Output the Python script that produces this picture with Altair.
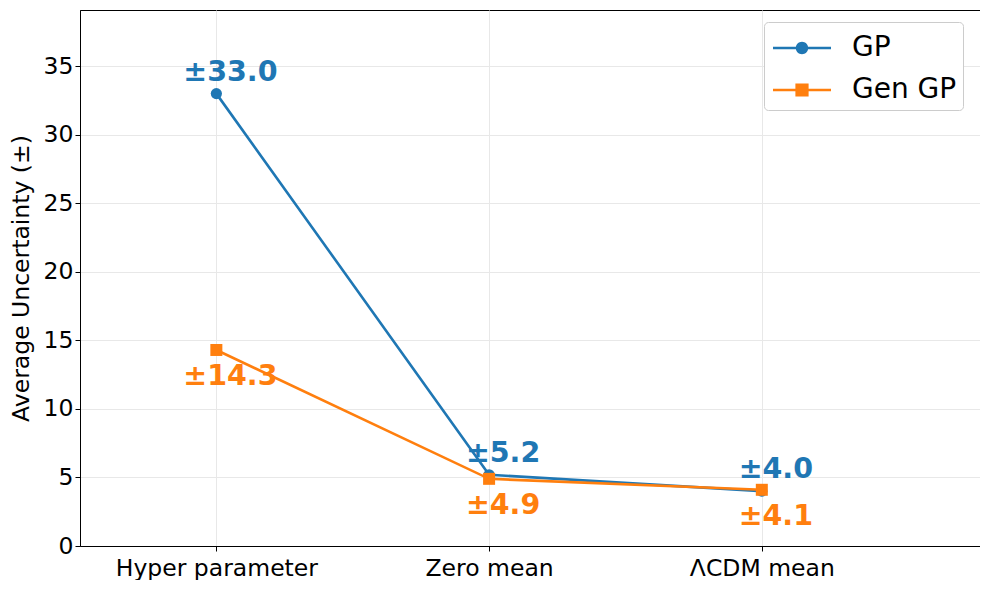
import altair as alt
import pandas as pd

categories = ["Hyper parameter", "Zero mean", "ΛCDM mean"]
series_names = ["GP", "Gen GP"]
gp_values = [33.0, 5.2, 4.0]
gen_gp_values = [14.3, 4.9, 4.1]
colors = ["#1f77b4", "#ff7f0e"]
y_ticks = [0, 5, 10, 15, 20, 25, 30, 35]

rows = []
for s, vals in zip(series_names, [gp_values, gen_gp_values]):
    for i, v in enumerate(vals):
        rows.append({"idx": i, "series": s, "value": v, "label": f"±{v:.1f}"})
df = pd.DataFrame(rows)

label_expr = " : ".join(
    [f"datum.value == {i} ? '{c}'" for i, c in enumerate(categories)]
) + " : ''"

x_enc = alt.X("idx:Q", scale=alt.Scale(domain=[-0.5, 2.8], nice=False, zero=False),
              axis=alt.Axis(values=[0, 1, 2], labelExpr=label_expr, title=None,
                            labelPadding=5, labelLimit=400))
y_enc = alt.Y("value:Q", scale=alt.Scale(domain=[0, 39.1], nice=False),
              axis=alt.Axis(values=y_ticks, title="Average Uncertainty (±)",
                            titlePadding=10))
color_scale = alt.Scale(domain=series_names, range=colors)
color_enc = alt.Color("series:N", scale=color_scale, legend=None)

base = alt.Chart(df)

lines = base.mark_line(strokeWidth=2.6).encode(
    x=x_enc, y=y_enc, color=color_enc, detail="series:N", order="idx:Q"
)

points = base.mark_point(filled=True, opacity=1).encode(
    x=x_enc, y=y_enc, color=color_enc,
    shape=alt.Shape("series:N", scale=alt.Scale(domain=series_names,
                                                range=["circle", "square"]), legend=None),
    size=alt.Size("series:N", scale=alt.Scale(domain=series_names, range=[125, 144]),
                  legend=None),
)

text_gp = base.transform_filter("datum.series == 'GP'").mark_text(
    dy=-22, dx=14, fontSize=28.5, fontWeight="bold", font="DejaVu Sans"
).encode(x=x_enc, y=y_enc, text="label:N", color=color_enc)

text_gen = base.transform_filter("datum.series == 'Gen GP'").mark_text(
    dy=26, dx=14, fontSize=28.5, fontWeight="bold", font="DejaVu Sans"
).encode(x=x_enc, y=y_enc, text="label:N", color=color_enc)

# legend symbols: line with marker (custom paths, r = 20px)
circle_legend = ("M-1.45,-0.065L-0.3,-0.065L-0.3,0.065L-1.45,0.065Z"
                 "M0.3,-0.065L1.45,-0.065L1.45,0.065L0.3,0.065Z"
                 "M-0.31,0A0.31,0.31,0,1,1,0.31,0A0.31,0.31,0,1,1,-0.31,0Z")
square_legend = ("M-1.45,-0.065L-0.33,-0.065L-0.33,0.065L-1.45,0.065Z"
                 "M0.33,-0.065L1.45,-0.065L1.45,0.065L0.33,0.065Z"
                 "M-0.33,-0.33L0.33,-0.33L0.33,0.33L-0.33,0.33Z")

legend = alt.Legend(
    title=None, orient="none", legendX=684, legendY=12,
    labelFontSize=28, labelFont="DejaVu Sans", labelColor="black",
    labelOffset=30, symbolOffset=12, symbolOpacity=1, symbolSize=1600,
    symbolStrokeWidth=0,
    padding=6, strokeColor="#cccccc", fillColor="white", cornerRadius=4,
)

legend_layer = base.transform_filter("false").mark_point(
    filled=True, opacity=1, size=1600
).encode(
    x=x_enc, y=y_enc,
    color=alt.Color("series:N", scale=color_scale, legend=legend),
    shape=alt.Shape("series:N", scale=alt.Scale(domain=series_names,
                                                range=[circle_legend, square_legend]),
                    legend=legend),
)

chart = alt.layer(lines, points, text_gp, text_gen, legend_layer).resolve_scale(
    shape="independent", color="independent"
).properties(
    width=900, height=536,
    autosize=alt.AutoSizeParams(type="none"),
    padding={"left": 72, "top": 2, "right": 0, "bottom": 34},
).configure_view(
    stroke="black", strokeWidth=1
).configure_axis(
    labelFont="DejaVu Sans", titleFont="DejaVu Sans",
    labelFontSize=23.5, titleFontSize=23.5, labelColor="black", titleColor="black",
    titleFontWeight="normal", tickColor="black", tickSize=5, domainColor="black",
    gridColor="#e8e8e8", gridWidth=1,
).configure_legend(
    rowPadding=8
)

chart.save("out.html", embed_options={"renderer": "svg", "actions": False})
